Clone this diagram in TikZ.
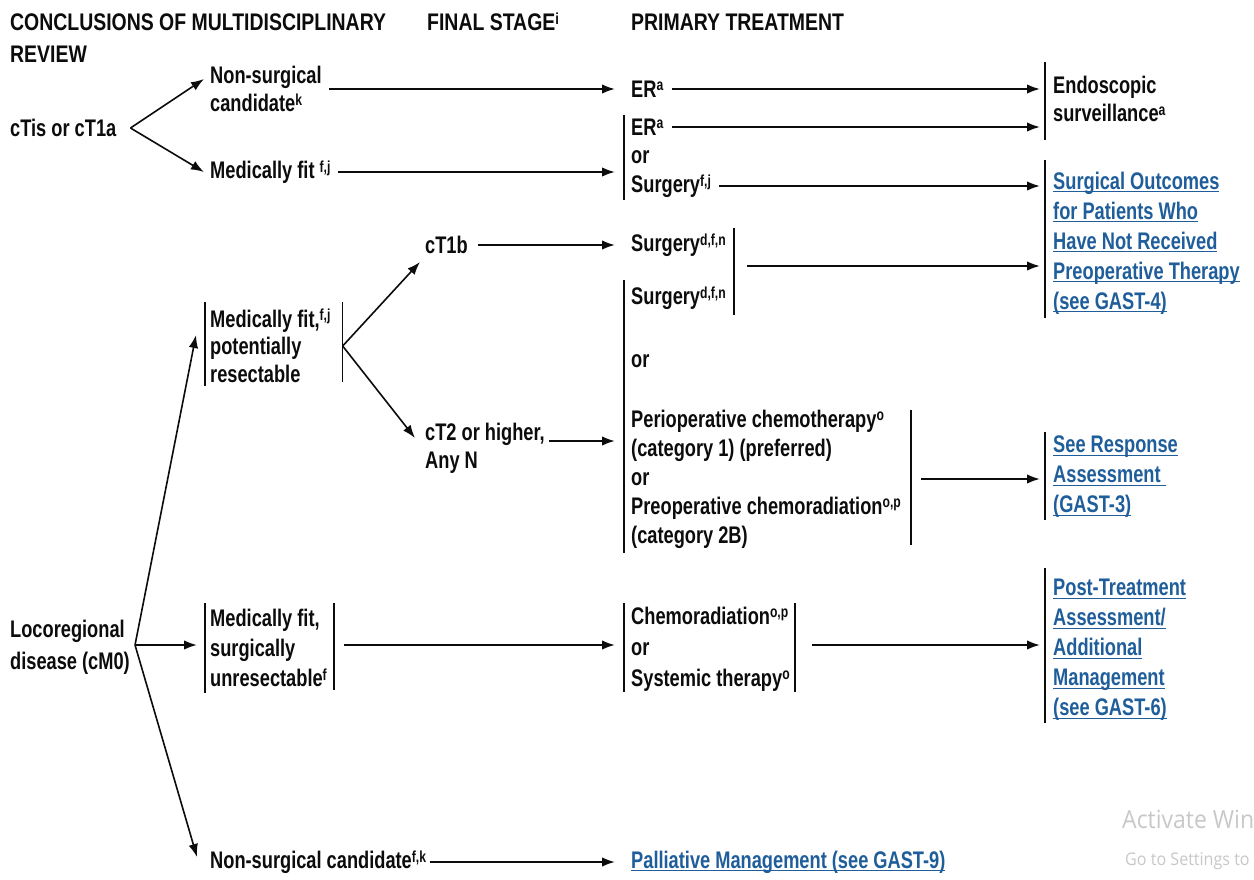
\documentclass[tikz,border=0pt]{standalone}
\usepackage{fontspec}
\setmainfont{Liberation Sans}[FakeStretch=0.76]
\newfontfamily\hdfont{Liberation Sans}[FakeStretch=0.81]
\newfontfamily\wmfont{Open Sans}[FakeStretch=0.92]
\usetikzlibrary{arrows.meta,calc}
\definecolor{linkblue}{RGB}{31,94,154}
\definecolor{ink}{RGB}{12,12,12}
\definecolor{wmgray}{RGB}{200,200,200}
% link text: underline at a fixed depth below the baseline
\newcommand\lk[1]{\leavevmode\setbox0\hbox{#1}\rlap{\rule[-3.2pt]{\wd0}{1.3pt}}\box0}
% footnote marks
\newcommand\sps[1]{\raisebox{6.5pt}{\fontsize{16}{16}\selectfont #1}}

\begin{document}
\begin{tikzpicture}[x=1pt,y=-1pt,
  txt/.style={anchor=west,inner sep=0pt,align=left,text=ink,font=\fontsize{24}{29.5}\selectfont\bfseries},
  ls28/.style={font=\fontsize{24}{28}\selectfont\bfseries},
  ls30/.style={font=\fontsize{24}{30}\selectfont\bfseries},
  ls32/.style={font=\fontsize{24}{32}\selectfont\bfseries},
  hd/.style={txt,font=\hdfont\fontsize{24}{32}\selectfont\bfseries},
  link/.style={txt,text=linkblue},
  arr/.style={draw=ink,line width=2pt,-{Latex[length=13pt,width=9.5pt]}},
  darr/.style={draw=ink,line width=1.6pt,-{Latex[length=13pt,width=9.5pt]}},
  bar/.style={draw=ink,line width=1.4pt},
  wm/.style={anchor=west,inner sep=0pt,text=wmgray},
]
\useasboundingbox (0,0) rectangle (1254,879);
\fill[white] (0,0) rectangle (1254,879);
\clip (0,0) rectangle (1254,879);

% column headings
\node[hd] (h1) at (10,38) {CONCLUSIONS OF MULTIDISCIPLINARY\\REVIEW};
\node[hd] (h2) at (427,22) {FINAL STAGE\sps{i}};
\node[hd] (h3) at (631,22) {PRIMARY TREATMENT};

% cTis / cT1a branch
\node[txt] (ctis) at (10,128) {cTis or cT1a};
\node[txt,ls28] (ns1) at (210,89) {Non-surgical\\candidate\sps{k}};
\node[txt] (mf1) at (210,172) {Medically fit \sps{f,j}};
\node[txt] (er1) at (631,89) {ER\sps{a}};
\node[txt] (er2) at (631,127) {ER\sps{a}};
\node[txt] (or1) at (631,157) {or};
\node[txt] (surg1) at (631,186) {Surgery\sps{f,j}};
\node[txt,ls28] (endo) at (1053,99) {Endoscopic\\surveillance\sps{a}};
\node[link,ls30] (surgout) at (1053,243)
  {\lk{Surgical Outcomes}\\\lk{for Patients Who}\\\lk{Have Not Received}\\\lk{Preoperative Therapy}\\\lk{(see GAST-4)}};

\coordinate (f1) at ([xshift=14pt]ctis.east);
\draw[darr] (f1) -- ([shift={(-6,-10)}]ns1.west);
\draw[darr] (f1) -- ([shift={(-6,0)}]mf1.west);
\draw[arr] ([xshift=7pt]ns1.east) -- ([xshift=-16pt]er1.west);
\draw[arr] ([xshift=7pt]mf1.east) -- ([xshift=-16pt]or1.west |- mf1.east);
\draw[arr] ([xshift=8pt]er1.east) -- ([xshift=-13pt]endo.west |- er1.east);
\draw[arr] ([xshift=8pt]er2.east) -- ([xshift=-13pt]endo.west |- er2.east);
\draw[arr] ([xshift=8pt]surg1.east) -- ([xshift=-13pt]surgout.west |- surg1.east);
\draw[bar] ([shift={(-7,-12)}]er2.west) -- ([shift={(-7,14)}]surg1.west);
\draw[bar] ([shift={(-8,-37)}]endo.west) -- ([shift={(-8,41)}]endo.west);
\draw[bar] ([shift={(-8,-83)}]surgout.west) -- ([shift={(-8,75)}]surgout.west);

% locoregional disease
\node[txt,ls32] (loco) at (10,647) {Locoregional\\disease (cM0)};
\node[txt,font=\fontsize{24}{27.5}\selectfont\bfseries] (mfp) at (210,346)
  {Medically fit,\sps{f,j}\\potentially\\resectable};
\node[txt] (ct1b) at (425,245) {cT1b};
\node[txt,ls28] (ct2) at (425,448) {cT2 or higher,\\Any N};
\node[txt] (surg2) at (631,245) {Surgery\sps{d,f,n}};
\node[txt] (surg3) at (631,298) {Surgery\sps{d,f,n}};
\node[txt] (or2) at (631,361) {or};
\node[txt,font=\fontsize{24}{29}\selectfont\bfseries] (peri) at (631,479)
  {Perioperative chemotherapy\sps{o}\\(category 1) (preferred)\\or\\Preoperative chemoradiation\sps{o,p}\\(category 2B)};
\node[link,ls30] (resp) at (1053,477)
  {\lk{See Response}\\\lk{Assessment }\\\lk{(GAST-3)}};

\node[txt,ls30] (mfu) at (210,648)
  {Medically fit,\\surgically\\unresectable\sps{f}};
\node[txt,font=\fontsize{24}{31}\selectfont\bfseries] (chemo) at (631,649)
  {Chemoradiation\sps{o,p}\\or\\Systemic therapy\sps{o}};
\node[link,ls30] (post) at (1053,650)
  {\lk{Post-Treatment}\\\lk{Assessment/}\\\lk{Additional}\\\lk{Management}\\\lk{(see GAST-6)}};
\node[txt] (nsc) at (210,862) {Non-surgical candidate\sps{f,k}};
\node[link] (pall) at (631,862) {\lk{Palliative Management (see GAST-9)}};

% fork from locoregional disease
\coordinate (f3) at ([shift={(5,-2)}]loco.east);
\draw[darr] (f3) -- ([shift={(-14,-11)}]mfp.west);
\draw[arr] (f3) -- ([shift={(-13,-3)}]mfu.west);
\draw[darr] (f3) -- ([shift={(-13,-5)}]nsc.west);

% potentially resectable
\draw[bar] ([shift={(-5,-44)}]mfp.west) -- ([shift={(-5,40)}]mfp.west);
\draw[bar] ([shift={(12,-44)}]mfp.east) -- ([shift={(12,36)}]mfp.east);
\coordinate (f2) at ([xshift=12pt]mfp.east);
\draw[darr] (f2) -- ([shift={(-5,17)}]ct1b.west);
\draw[darr] (f2) -- ([shift={(-10,-10)}]ct2.west);
\draw[arr] ([xshift=10pt]ct1b.east) -- ([xshift=-16pt]surg2.west);
\coordinate (c2o) at ([shift={(4,-7)}]ct2.east);
\draw[arr] (c2o) -- ([xshift=-16pt]peri.west |- c2o);

\draw[bar] ([shift={(8,-17)}]surg2.east) -- ([shift={(8,17)}]surg3.east);
\coordinate (sgo) at ([shift={(21,21)}]surg2.east);
\draw[arr] (sgo) -- ([xshift=-13pt]surgout.west |- sgo);
\draw[bar] ([shift={(-7,-18)}]surg3.west) -- ([shift={(-7,74)}]peri.west);
\draw[bar] ([shift={(10,-69)}]peri.east) -- ([shift={(10,66)}]peri.east);
\draw[arr] ([xshift=20pt]peri.east) -- ([xshift=-13pt]resp.west |- peri.east);
\draw[bar] ([shift={(-8,-45)}]resp.west) -- ([shift={(-8,43)}]resp.west);

% unresectable
\draw[bar] ([shift={(-5,-45)}]mfu.west) -- ([shift={(-5,45)}]mfu.west);
\draw[bar] ([shift={(7,-45)}]mfu.east) -- ([shift={(7,42)}]mfu.east);
\draw[arr] ([shift={(17,-3)}]mfu.east) -- ([shift={(-16,-4)}]chemo.west);
\draw[bar] ([shift={(-7,-46)}]chemo.west) -- ([shift={(-7,43)}]chemo.west);
\draw[bar] ([shift={(5,-46)}]chemo.east) -- ([shift={(5,43)}]chemo.east);
\coordinate (cho) at ([shift={(22,-4)}]chemo.east);
\draw[arr] (cho) -- ([xshift=-13pt]post.west |- cho);
\draw[bar] ([shift={(-8,-82)}]post.west) -- ([shift={(-8,73)}]post.west);

\draw[arr] ([xshift=4pt]nsc.east) -- ([xshift=-16pt]pall.west);

% watermark
\node[wm,font=\wmfont\fontsize{25}{25}\selectfont] (wm1) at (1122,819) {Activate Windows};
\node[wm,font=\wmfont\fontsize{17.5}{17.5}\selectfont] (wm2) at (1125,861) {Go to Settings to activate Windows.};
\end{tikzpicture}
\end{document}
